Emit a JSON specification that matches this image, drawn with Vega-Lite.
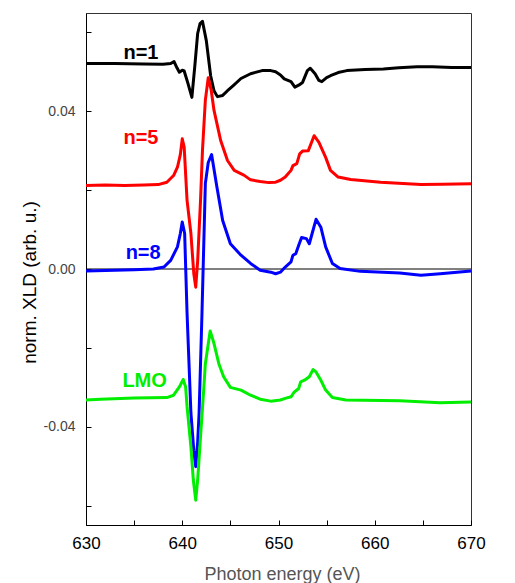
{
  "$schema": "https://vega.github.io/schema/vega-lite/v6.json",
  "autosize": {"type": "none"},
  "width": 385,
  "height": 512,
  "padding": {"left": 86, "top": 13, "right": 44, "bottom": 58},
  "background": "white",
  "config": {
    "font": "Liberation Sans",
    "view": {"stroke": "#333", "strokeWidth": 1}
  },
  "datasets": {
    "curves": [
      {"s": "n=1", "E": 630, "v": 0.0521}, {"s": "n=1", "E": 633, "v": 0.0521}, {"s": "n=1", "E": 636, "v": 0.0520}, {"s": "n=1", "E": 638, "v": 0.0519},
      {"s": "n=1", "E": 638.8, "v": 0.0521}, {"s": "n=1", "E": 639.15, "v": 0.0526}, {"s": "n=1", "E": 639.45, "v": 0.0510}, {"s": "n=1", "E": 639.7, "v": 0.0499},
      {"s": "n=1", "E": 640.0, "v": 0.0504}, {"s": "n=1", "E": 640.2, "v": 0.0502}, {"s": "n=1", "E": 640.6, "v": 0.0470}, {"s": "n=1", "E": 641.0, "v": 0.0435},
      {"s": "n=1", "E": 641.3, "v": 0.0513}, {"s": "n=1", "E": 641.6, "v": 0.0597}, {"s": "n=1", "E": 641.85, "v": 0.0622}, {"s": "n=1", "E": 642.1, "v": 0.0628},
      {"s": "n=1", "E": 642.5, "v": 0.0579}, {"s": "n=1", "E": 642.95, "v": 0.0490}, {"s": "n=1", "E": 643.3, "v": 0.0452}, {"s": "n=1", "E": 643.65, "v": 0.0437},
      {"s": "n=1", "E": 644.2, "v": 0.0440}, {"s": "n=1", "E": 644.7, "v": 0.0452}, {"s": "n=1", "E": 645.3, "v": 0.0465}, {"s": "n=1", "E": 646.1, "v": 0.0483},
      {"s": "n=1", "E": 647.1, "v": 0.0495}, {"s": "n=1", "E": 648.3, "v": 0.0503}, {"s": "n=1", "E": 649.2, "v": 0.0503}, {"s": "n=1", "E": 649.7, "v": 0.0500},
      {"s": "n=1", "E": 650.2, "v": 0.0492}, {"s": "n=1", "E": 650.6, "v": 0.0482}, {"s": "n=1", "E": 651.3, "v": 0.0475}, {"s": "n=1", "E": 651.7, "v": 0.0461},
      {"s": "n=1", "E": 652.1, "v": 0.0466}, {"s": "n=1", "E": 652.5, "v": 0.0473}, {"s": "n=1", "E": 653.0, "v": 0.0503}, {"s": "n=1", "E": 653.3, "v": 0.0509},
      {"s": "n=1", "E": 653.8, "v": 0.0495}, {"s": "n=1", "E": 654.2, "v": 0.0478}, {"s": "n=1", "E": 654.5, "v": 0.0475}, {"s": "n=1", "E": 655.0, "v": 0.0485},
      {"s": "n=1", "E": 655.4, "v": 0.0490}, {"s": "n=1", "E": 656.2, "v": 0.0498}, {"s": "n=1", "E": 657.1, "v": 0.0503}, {"s": "n=1", "E": 659, "v": 0.0506},
      {"s": "n=1", "E": 660.9, "v": 0.0507}, {"s": "n=1", "E": 662.5, "v": 0.0510}, {"s": "n=1", "E": 664.4, "v": 0.0513}, {"s": "n=1", "E": 666, "v": 0.0513},
      {"s": "n=1", "E": 668, "v": 0.0511}, {"s": "n=1", "E": 670, "v": 0.0511},

      {"s": "n=5", "E": 630, "v": 0.0212}, {"s": "n=5", "E": 632, "v": 0.0213}, {"s": "n=5", "E": 634, "v": 0.0212}, {"s": "n=5", "E": 636, "v": 0.0213},
      {"s": "n=5", "E": 637.5, "v": 0.0214}, {"s": "n=5", "E": 638.4, "v": 0.0220}, {"s": "n=5", "E": 639.1, "v": 0.0237}, {"s": "n=5", "E": 639.5, "v": 0.0258},
      {"s": "n=5", "E": 639.8, "v": 0.0290}, {"s": "n=5", "E": 640.0, "v": 0.0330}, {"s": "n=5", "E": 640.2, "v": 0.0309}, {"s": "n=5", "E": 640.5, "v": 0.0174},
      {"s": "n=5", "E": 640.9, "v": 0.0090}, {"s": "n=5", "E": 641.2, "v": -0.0012}, {"s": "n=5", "E": 641.4, "v": -0.0046}, {"s": "n=5", "E": 641.6, "v": 0.0020},
      {"s": "n=5", "E": 641.9, "v": 0.0174}, {"s": "n=5", "E": 642.1, "v": 0.0300}, {"s": "n=5", "E": 642.4, "v": 0.0428}, {"s": "n=5", "E": 642.7, "v": 0.0485},
      {"s": "n=5", "E": 643.0, "v": 0.0455}, {"s": "n=5", "E": 643.3, "v": 0.0402}, {"s": "n=5", "E": 644.0, "v": 0.0325}, {"s": "n=5", "E": 644.7, "v": 0.0275},
      {"s": "n=5", "E": 645.4, "v": 0.0250}, {"s": "n=5", "E": 646.4, "v": 0.0238}, {"s": "n=5", "E": 647.1, "v": 0.0226}, {"s": "n=5", "E": 648.1, "v": 0.0222},
      {"s": "n=5", "E": 649.0, "v": 0.0219}, {"s": "n=5", "E": 649.7, "v": 0.0220}, {"s": "n=5", "E": 650.2, "v": 0.0225}, {"s": "n=5", "E": 650.7, "v": 0.0233},
      {"s": "n=5", "E": 651.3, "v": 0.0250}, {"s": "n=5", "E": 651.5, "v": 0.0262}, {"s": "n=5", "E": 651.9, "v": 0.0267}, {"s": "n=5", "E": 652.2, "v": 0.0292},
      {"s": "n=5", "E": 652.5, "v": 0.0299}, {"s": "n=5", "E": 653.1, "v": 0.0300}, {"s": "n=5", "E": 653.7, "v": 0.0338}, {"s": "n=5", "E": 654.2, "v": 0.0321},
      {"s": "n=5", "E": 654.9, "v": 0.0283}, {"s": "n=5", "E": 655.4, "v": 0.0250}, {"s": "n=5", "E": 656.2, "v": 0.0233}, {"s": "n=5", "E": 657.5, "v": 0.0227},
      {"s": "n=5", "E": 660.6, "v": 0.0220}, {"s": "n=5", "E": 664.8, "v": 0.0214}, {"s": "n=5", "E": 667, "v": 0.0215}, {"s": "n=5", "E": 670, "v": 0.0216},

      {"s": "n=8", "E": 630, "v": -0.0005}, {"s": "n=8", "E": 632, "v": -0.0004}, {"s": "n=8", "E": 635, "v": -0.0002}, {"s": "n=8", "E": 637, "v": 0.0000},
      {"s": "n=8", "E": 638.1, "v": 0.0005}, {"s": "n=8", "E": 638.8, "v": 0.0022}, {"s": "n=8", "E": 639.5, "v": 0.0056}, {"s": "n=8", "E": 639.8, "v": 0.0090},
      {"s": "n=8", "E": 640.0, "v": 0.0119}, {"s": "n=8", "E": 640.25, "v": 0.0090}, {"s": "n=8", "E": 640.5, "v": -0.0112}, {"s": "n=8", "E": 640.9, "v": -0.0365},
      {"s": "n=8", "E": 641.2, "v": -0.0460}, {"s": "n=8", "E": 641.4, "v": -0.0501}, {"s": "n=8", "E": 641.6, "v": -0.0440}, {"s": "n=8", "E": 641.75, "v": -0.0365},
      {"s": "n=8", "E": 641.9, "v": -0.0239}, {"s": "n=8", "E": 642.05, "v": -0.0112}, {"s": "n=8", "E": 642.4, "v": 0.0217}, {"s": "n=8", "E": 642.7, "v": 0.0270},
      {"s": "n=8", "E": 643.05, "v": 0.0290}, {"s": "n=8", "E": 643.6, "v": 0.0208}, {"s": "n=8", "E": 644.2, "v": 0.0123}, {"s": "n=8", "E": 645.0, "v": 0.0064},
      {"s": "n=8", "E": 646.1, "v": 0.0035}, {"s": "n=8", "E": 647.1, "v": 0.0014}, {"s": "n=8", "E": 648.1, "v": -0.0003}, {"s": "n=8", "E": 649.2, "v": -0.0008},
      {"s": "n=8", "E": 649.7, "v": -0.0012}, {"s": "n=8", "E": 650.2, "v": -0.0008}, {"s": "n=8", "E": 650.7, "v": 0.0005}, {"s": "n=8", "E": 651.3, "v": 0.0018},
      {"s": "n=8", "E": 651.5, "v": 0.0035}, {"s": "n=8", "E": 651.8, "v": 0.0039}, {"s": "n=8", "E": 652.1, "v": 0.0060}, {"s": "n=8", "E": 652.4, "v": 0.0080},
      {"s": "n=8", "E": 652.9, "v": 0.0077}, {"s": "n=8", "E": 653.2, "v": 0.0064}, {"s": "n=8", "E": 653.9, "v": 0.0126}, {"s": "n=8", "E": 654.4, "v": 0.0106},
      {"s": "n=8", "E": 654.9, "v": 0.0056}, {"s": "n=8", "E": 655.6, "v": 0.0014}, {"s": "n=8", "E": 656.4, "v": 0.0001}, {"s": "n=8", "E": 658.5, "v": -0.0006},
      {"s": "n=8", "E": 662.6, "v": -0.0010}, {"s": "n=8", "E": 664.8, "v": -0.0016}, {"s": "n=8", "E": 666.8, "v": -0.0012}, {"s": "n=8", "E": 670, "v": -0.0005},

      {"s": "LMO", "E": 630, "v": -0.0332}, {"s": "LMO", "E": 631.5, "v": -0.0330}, {"s": "LMO", "E": 635, "v": -0.0327}, {"s": "LMO", "E": 638.4, "v": -0.0326},
      {"s": "LMO", "E": 639.1, "v": -0.0320}, {"s": "LMO", "E": 639.7, "v": -0.0299}, {"s": "LMO", "E": 640.1, "v": -0.0280}, {"s": "LMO", "E": 640.35, "v": -0.0299},
      {"s": "LMO", "E": 640.5, "v": -0.0349}, {"s": "LMO", "E": 640.9, "v": -0.0451}, {"s": "LMO", "E": 641.15, "v": -0.0535}, {"s": "LMO", "E": 641.4, "v": -0.0586},
      {"s": "LMO", "E": 641.6, "v": -0.0535}, {"s": "LMO", "E": 641.9, "v": -0.0425}, {"s": "LMO", "E": 642.25, "v": -0.0299}, {"s": "LMO", "E": 642.4, "v": -0.0240},
      {"s": "LMO", "E": 642.9, "v": -0.0157}, {"s": "LMO", "E": 643.3, "v": -0.0189}, {"s": "LMO", "E": 643.8, "v": -0.0240}, {"s": "LMO", "E": 644.3, "v": -0.0273},
      {"s": "LMO", "E": 645.0, "v": -0.0300}, {"s": "LMO", "E": 646.1, "v": -0.0307}, {"s": "LMO", "E": 647.1, "v": -0.0320}, {"s": "LMO", "E": 648.1, "v": -0.0330},
      {"s": "LMO", "E": 649.2, "v": -0.0335}, {"s": "LMO", "E": 650.2, "v": -0.0332}, {"s": "LMO", "E": 650.7, "v": -0.0328}, {"s": "LMO", "E": 651.3, "v": -0.0324},
      {"s": "LMO", "E": 651.6, "v": -0.0313}, {"s": "LMO", "E": 652.1, "v": -0.0303}, {"s": "LMO", "E": 652.3, "v": -0.0286}, {"s": "LMO", "E": 652.7, "v": -0.0282},
      {"s": "LMO", "E": 653.2, "v": -0.0273}, {"s": "LMO", "E": 653.6, "v": -0.0255}, {"s": "LMO", "E": 653.9, "v": -0.0261}, {"s": "LMO", "E": 654.4, "v": -0.0282},
      {"s": "LMO", "E": 654.9, "v": -0.0307}, {"s": "LMO", "E": 655.6, "v": -0.0326}, {"s": "LMO", "E": 657.0, "v": -0.0332}, {"s": "LMO", "E": 662.6, "v": -0.0334},
      {"s": "LMO", "E": 666.8, "v": -0.0339}, {"s": "LMO", "E": 670, "v": -0.0337}
    ],
    "labels": [
      {"s": "n=1", "E": 633.89, "v": 0.0533},
      {"s": "n=5", "E": 633.89, "v": 0.0318},
      {"s": "n=8", "E": 634.12, "v": 0.0026},
      {"s": "LMO", "E": 633.78, "v": -0.0299}
    ],
    "zero": [{"v": 0}]
  },
  "layer": [
    {
      "data": {"name": "zero"},
      "mark": {"type": "rule", "color": "#000", "strokeWidth": 1},
      "encoding": {
        "y": {"field": "v", "type": "quantitative", "title": "norm. XLD (arb. u.)", "scale": {"domain": [-0.0649, 0.0649], "nice": false, "zero": false}}
      }
    },
    {
      "data": {"name": "curves"},
      "mark": {"type": "line", "strokeWidth": 3, "strokeJoin": "round"},
      "encoding": {
        "x": {
          "field": "E", "type": "quantitative", "title": "Photon energy (eV)",
          "scale": {"domain": [630, 670], "nice": false, "zero": false},
          "axis": {
            "values": [630, 635, 640, 645, 650, 655, 660, 665, 670],
            "format": "d",
            "labelExpr": "datum.value % 10 == 0 ? datum.label : ''",
            "labelOverlap": false, "labelFlush": false,
            "grid": false, "tickSize": -5, "tickColor": "#000", "domainColor": "#000",
            "labelPadding": 28, "labelBaseline": "alphabetic", "labelFontSize": 17, "labelColor": "#000",
            "titleFontSize": 18, "titleColor": "#555", "titleFontWeight": "normal",
            "titleX": 196, "titleY": 54, "titleBaseline": "alphabetic", "titleAlign": "center"
          }
        },
        "y": {
          "field": "v", "type": "quantitative", "title": "norm. XLD (arb. u.)",
          "scale": {"domain": [-0.0649, 0.0649], "nice": false, "zero": false},
          "axis": {
            "values": [-0.06, -0.04, -0.02, 0, 0.02, 0.04, 0.06],
            "labelExpr": "abs(datum.value - 0.04) < 1e-9 ? '0.04' : (abs(datum.value) < 1e-9 ? '0.00' : (abs(datum.value + 0.04) < 1e-9 ? '-0.04' : ''))",
            "labelOverlap": false, "labelFlush": false,
            "grid": false, "tickSize": -5, "tickColor": "#000", "domainColor": "#000",
            "labelPadding": 16, "labelFontSize": 14, "labelColor": "#444",
            "titleFontSize": 19, "titleColor": "#000", "titleFontWeight": "normal",
            "titleX": -51, "titleY": 269, "titleAngle": -90, "titleAlign": "center", "titleBaseline": "alphabetic"
          }
        },
        "color": {
          "field": "s", "type": "nominal", "legend": null,
          "scale": {"domain": ["n=1", "n=5", "n=8", "LMO"], "range": ["#000000", "#ff0000", "#0000ff", "#00ee00"]}
        }
      }
    },
    {
      "data": {"name": "labels"},
      "mark": {"type": "text", "align": "left", "baseline": "alphabetic", "fontSize": 20, "fontWeight": "bold"},
      "encoding": {
        "x": {"field": "E", "type": "quantitative", "title": "Photon energy (eV)"},
        "y": {"field": "v", "type": "quantitative", "title": "norm. XLD (arb. u.)"},
        "text": {"field": "s"},
        "color": {"field": "s", "type": "nominal", "legend": null}
      }
    }
  ]
}
